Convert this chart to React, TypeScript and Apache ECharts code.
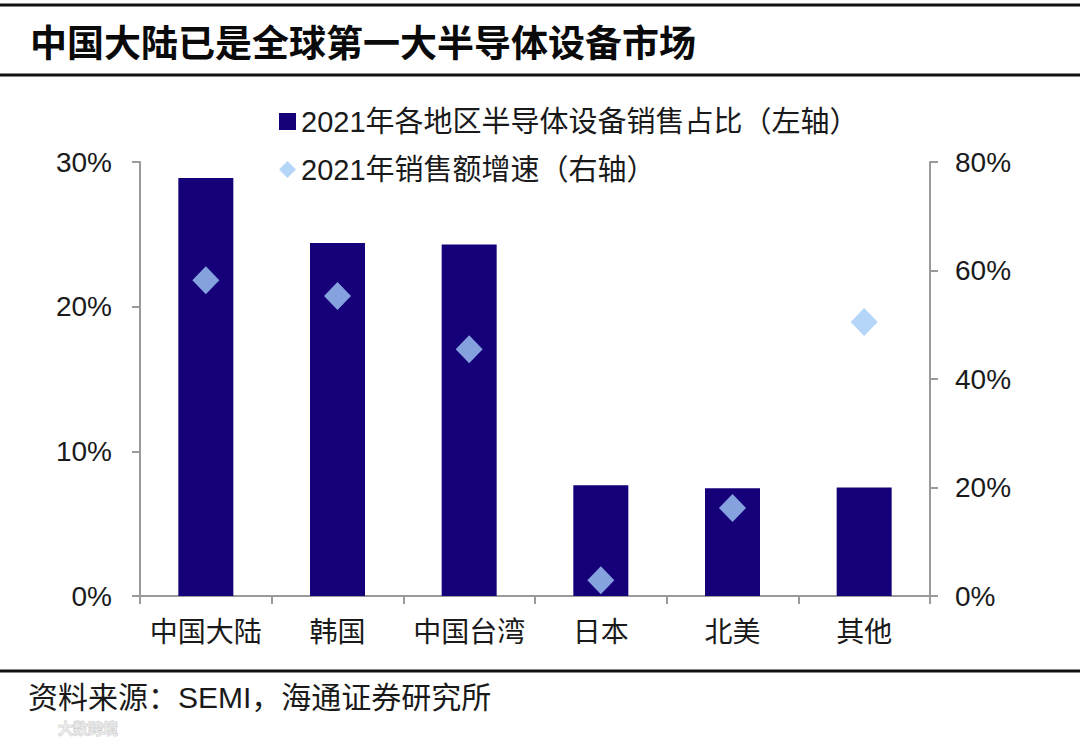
import React, { useEffect, useRef } from "react";
import * as echarts from "echarts";

const title = "中国大陆已是全球第一大半导体设备市场";
const source = "资料来源：SEMI，海通证券研究所";
const watermark = "大数跨境";
const categories = ["中国大陆", "韩国", "中国台湾", "日本", "北美", "其他"];
const shareName = "2021年各地区半导体设备销售占比（左轴）";
const growthName = "2021年销售额增速（右轴）";
const shareValues = [28.9, 24.4, 24.3, 7.65, 7.45, 7.5];
const growthValues = [58.2, 55.3, 45.5, 2.9, 16.2, 50.5];
const leftTicks = [0, 10, 20, 30];
const rightTicks = [0, 20, 40, 60, 80];

const FONT = "'Liberation Sans', 'Noto Sans CJK SC', sans-serif";

export default function App() {
  const ref = useRef<HTMLDivElement>(null);
  useEffect(() => {
    if (!ref.current) return;
    const chart = echarts.init(ref.current, null, { renderer: "svg" });
    const axisLineStyle = { color: "#9a9a9a", width: 2 };
    chart.setOption({
      animation: false,
      backgroundColor: "#ffffff",
      textStyle: { fontFamily: FONT },
      grid: { left: 140, right: 150, top: 162, bottom: 142, containLabel: false },
      legend: {
        orient: "vertical",
        left: 274,
        top: 102,
        itemWidth: 17,
        itemHeight: 17,
        itemGap: 19,
        textStyle: { fontSize: 29, color: "#1a1a1a", fontFamily: FONT },
        data: [
          { name: shareName, icon: "rect" },
          { name: growthName, icon: "diamond" },
        ],
      },
      xAxis: {
        type: "category",
        data: categories,
        boundaryGap: true,
        axisLine: { lineStyle: axisLineStyle },
        axisTick: { show: true, length: 8, inside: false, alignWithLabel: false, interval: 0, lineStyle: axisLineStyle },
        axisLabel: { interval: 0, fontSize: 28, color: "#1a1a1a", margin: 22, fontFamily: FONT },
      },
      yAxis: [
        {
          type: "value",
          min: leftTicks[0],
          max: leftTicks[leftTicks.length - 1],
          interval: 10,
          position: "left",
          axisLine: { show: true, lineStyle: axisLineStyle },
          axisTick: { show: true, length: 8, lineStyle: axisLineStyle },
          splitLine: { show: false },
          axisLabel: { formatter: "{value}%", fontSize: 28, color: "#1a1a1a", margin: 28, fontFamily: FONT },
        },
        {
          type: "value",
          min: rightTicks[0],
          max: rightTicks[rightTicks.length - 1],
          interval: 20,
          position: "right",
          axisLine: { show: true, lineStyle: axisLineStyle },
          axisTick: { show: true, length: 8, lineStyle: axisLineStyle },
          splitLine: { show: false },
          axisLabel: { formatter: "{value}%", fontSize: 28, color: "#1a1a1a", margin: 25, fontFamily: FONT },
        },
      ],
      series: [
        {
          name: shareName,
          type: "bar",
          yAxisIndex: 0,
          data: shareValues,
          barWidth: 55,
          itemStyle: { color: "#15007a" },
          z: 2,
        },
        {
          name: growthName,
          type: "scatter",
          yAxisIndex: 1,
          data: growthValues,
          symbol: "diamond",
          symbolSize: [27, 28],
          itemStyle: { color: "#a3cbf7" },
          z: 5,
        },
      ],
      graphic: [
        { type: "line", shape: { x1: 0, y1: 5, x2: 1080, y2: 5 }, style: { stroke: "#111", lineWidth: 3 } },
        { type: "line", shape: { x1: 0, y1: 75, x2: 1080, y2: 75 }, style: { stroke: "#111", lineWidth: 3 } },
        { type: "line", shape: { x1: 0, y1: 671, x2: 1080, y2: 671 }, style: { stroke: "#111", lineWidth: 3 } },
        {
          type: "text",
          x: 30,
          y: 41,
          style: {
            text: title,
            fontSize: 37,
            fontWeight: "bold",
            fontFamily: "'Noto Sans CJK SC', sans-serif",
            fill: "#0a0a0a",
            textVerticalAlign: "middle",
          },
        },
        {
          type: "text",
          x: 28,
          y: 697,
          style: {
            text: source,
            fontSize: 30,
            fontFamily: FONT,
            fill: "#1a1a1a",
            textVerticalAlign: "middle",
          },
        },
        {
          type: "text",
          x: 58,
          y: 727,
          z: 10,
          style: {
            text: watermark,
            fontSize: 15,
            fontWeight: "bold",
            fontFamily: "'Noto Sans CJK SC', sans-serif",
            fill: "rgba(235,235,235,0.85)",
            stroke: "rgba(170,170,170,0.6)",
            lineWidth: 1,
            textVerticalAlign: "middle",
          },
        },
      ],
    });
    return () => chart.dispose();
  }, []);
  return (
    <div
      ref={ref}
      style={{ position: "fixed", left: 0, top: 0, width: 1080, height: 738, background: "#fff" }}
    />
  );
}
